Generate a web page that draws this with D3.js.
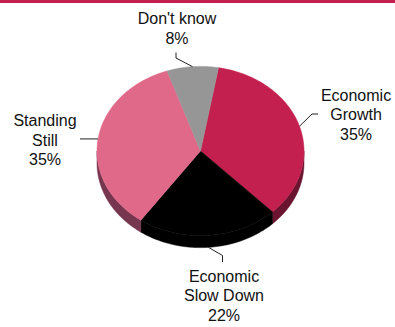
<!DOCTYPE html>
<html>
<head>
<meta charset="utf-8">
<script src="https://cdn.jsdelivr.net/npm/d3@7/dist/d3.min.js"></script>
<style>
  html, body { margin: 0; padding: 0; background: #ffffff; }
  svg { display: block; }
  text { font-family: "Liberation Sans", Arial, sans-serif; font-size: 16px; fill: #111; }
</style>
</head>
<body>
<svg id="chart" width="395" height="327"></svg>
<script>
// Survey answers, in the order the slices run clockwise
const categories = ["Economic Growth", "Economic Slow Down", "Standing Still", "Don't know"];
const values = [35, 22, 35, 8];
const labelLines = [["Economic", "Growth", "35%"], ["Economic", "Slow Down", "22%"], ["Standing", "Still", "35%"], ["Don't know", "8%"]];
const topColors = ["#C4204F", "#000000", "#E0698A", "#969696"];
const sideColors = ["#6B1430", "#000000", "#76364E", "#555555"];

const W = 395, H = 327;
const cx = 200.5, cy = 151, rx = 103.5, ry = 84.6, depth = 12;
const startDeg = 10;

const svg = d3.select("#chart");

// Magenta rule across the top
svg.append("rect").attr("x", 0).attr("y", 0).attr("width", W).attr("height", 3).attr("fill", "#C4204F");

const pie = d3.pie().sort(null).value(d => d.value)
  .startAngle(startDeg * Math.PI / 180)
  .endAngle(startDeg * Math.PI / 180 + 2 * Math.PI);

const data = categories.map((c, i) => ({ name: c, value: values[i], i }));
const arcs = pie(data);

// Point on the tilted rim; angle measured clockwise from 12 o'clock
const rim = (a, dy = 0) => [cx + rx * Math.sin(a), cy - ry * Math.cos(a) + dy];
const line = d3.line();

function arcPoints(a0, a1, dy) {
  const n = Math.max(2, Math.ceil(Math.abs(a1 - a0) / 0.02));
  return d3.range(n + 1).map(k => rim(a0 + (a1 - a0) * k / n, dy));
}

// Visible wall: the front half of the rim (from 3 o'clock to 9 o'clock)
const frontStart = Math.PI / 2, frontEnd = 3 * Math.PI / 2;
const sides = svg.append("g");
arcs.forEach(d => {
  // try the slice range and its copy shifted by a full turn
  [0, -2 * Math.PI, 2 * Math.PI].forEach(shift => {
    const a0 = Math.max(d.startAngle + shift, frontStart);
    const a1 = Math.min(d.endAngle + shift, frontEnd);
    if (a1 <= a0) return;
    const pts = arcPoints(a0, a1, 0).concat(arcPoints(a1, a0, depth));
    sides.append("path").attr("d", line(pts) + "Z")
      .attr("fill", sideColors[d.data.i]).attr("stroke", sideColors[d.data.i]).attr("stroke-width", 0.5);
  });
});

// Top faces
const tops = svg.append("g");
arcs.forEach(d => {
  const pts = [[cx, cy]].concat(arcPoints(d.startAngle, d.endAngle, 0));
  tops.append("path").attr("d", line(pts) + "Z")
    .attr("fill", topColors[d.data.i]).attr("stroke", topColors[d.data.i]).attr("stroke-width", 0.5);
});

// Leader lines and labels, anchored at each slice's mid angle
const mid = d => (d.startAngle + d.endAngle) / 2;
const leaders = [
  d => { const p = rim(mid(d)); return [p, [312, 114], [318, 114]]; },
  d => { const p = rim(mid(d), depth); return [p, [222.5, 255.5], [222.5, 262]]; },
  d => { const p = rim(mid(d)); return [p, [80, p[1]]]; },
  d => { const p = rim(mid(d)); return [p, [176, 58], [176, 52.5]]; }
];
const labelPos = [
  { x: 356, y: 100.5 },
  { x: 224, y: 281.5 },
  { x: 45, y: 126 },
  { x: 177, y: 24 }
];
const lineGap = 19.6;

const g = svg.append("g");
arcs.forEach(d => {
  const i = d.data.i;
  g.append("path").attr("d", line(leaders[i](d)))
    .attr("fill", "none").attr("stroke", "#222").attr("stroke-width", 1);
  const t = g.append("text").attr("text-anchor", "middle");
  labelLines[i].forEach((s, k) => {
    t.append("tspan").attr("x", labelPos[i].x).attr("y", labelPos[i].y + k * lineGap).text(s);
  });
});
</script>
</body>
</html>
